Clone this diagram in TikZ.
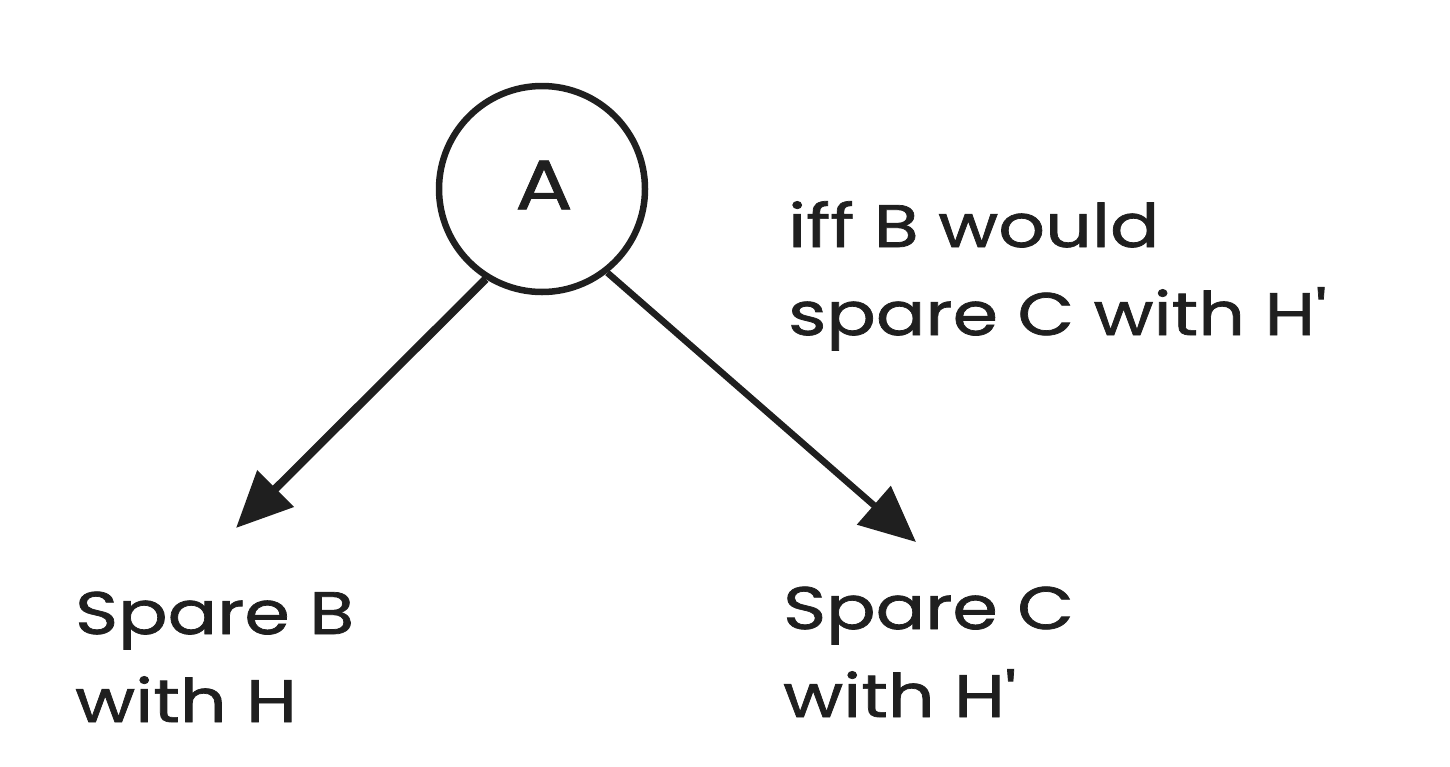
\documentclass[tikz,border=0pt]{standalone}
\usepackage{fontspec}
\setmainfont{Poppins}
\newfontfamily\handfont[FakeStretch=1.22, FakeBold=1.2]{Poppins}
\usetikzlibrary{arrows.meta}
\begin{document}
\begin{tikzpicture}[x=1pt,y=-1pt,
  hand/.style={font=\handfont\fontsize{60}{88}\selectfont, align=left, inner sep=0pt, anchor=base west, text=black!88},
  ring/.style={circle, draw=black!88, line width=6.5pt, minimum size=206pt, inner sep=0pt},
  link/.style={draw=black!88, line width=8pt, -{Triangle[length=56pt,width=50pt]}}]
\useasboundingbox (0,0) rectangle (1450,766);
\node[ring] (A) at (542,189) {};
\node[font=\handfont\fontsize{70}{80}\selectfont, text=black!88] (Alab) at (544,185) {A};
\node[hand] (cond) at (788,335) {iff B would\\spare C with H'};
\node[hand] (B) at (75,722) {Spare B\\with H};
\node[hand] (C) at (783,717) {Spare C\\with H'};
\coordinate (bt) at (236,528);
\coordinate (ct) at (916,542);
\draw[link] (A.238) -- (bt);
\draw[link, line width=6.5pt] (A.308) -- (ct);
\end{tikzpicture}
\end{document}
